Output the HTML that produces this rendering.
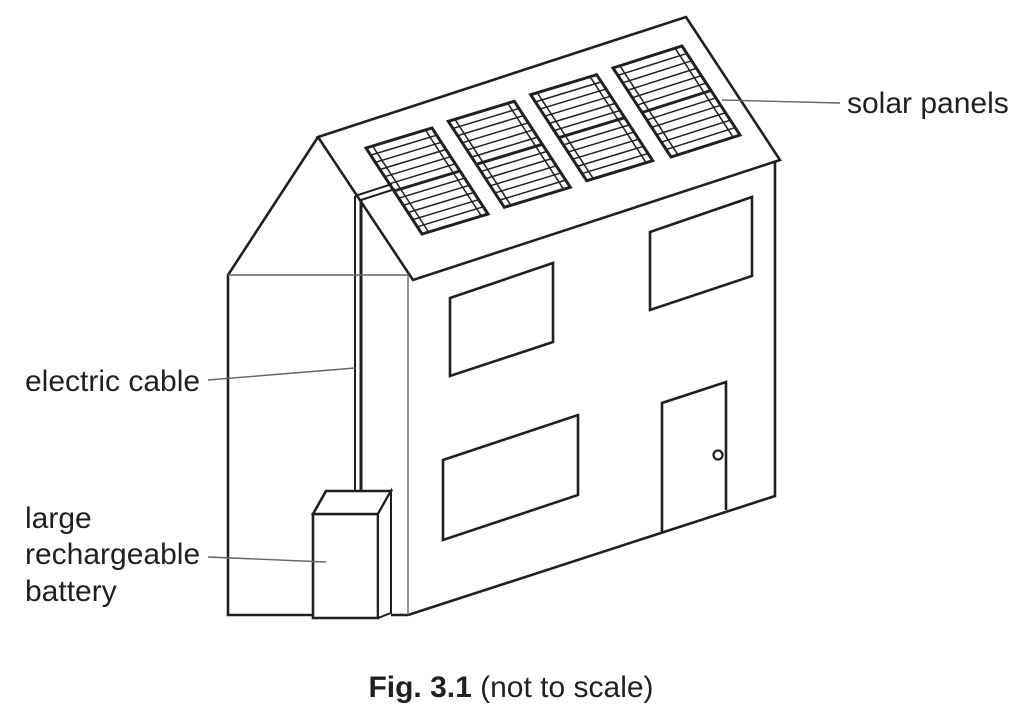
<!DOCTYPE html>
<html><head><meta charset="utf-8"><style>
html,body{margin:0;padding:0;background:#fff;}
svg{display:block;}
text{font-family:"Liberation Sans",Arial,sans-serif;fill:#231f20;}
</style></head><body>
<svg width="1022" height="718" viewBox="0 0 1022 718" xmlns="http://www.w3.org/2000/svg">
<defs>
<g id="pn" fill="none" stroke="#231f20">
  <rect x="0" y="0" width="100" height="100" stroke-width="3" vector-effect="non-scaling-stroke"/>
  <line x1="0" y1="50" x2="100" y2="50" stroke-width="3" vector-effect="non-scaling-stroke"/>
  <line x1="10" y1="0" x2="10" y2="100" stroke-width="1.5" vector-effect="non-scaling-stroke"/>
  <line x1="90" y1="0" x2="90" y2="100" stroke-width="1.5" vector-effect="non-scaling-stroke"/>
  <g stroke-width="1.5">
  <line x1="0" y1="8.33" x2="100" y2="8.33" vector-effect="non-scaling-stroke"/>
  <line x1="0" y1="16.67" x2="100" y2="16.67" vector-effect="non-scaling-stroke"/>
  <line x1="0" y1="25" x2="100" y2="25" vector-effect="non-scaling-stroke"/>
  <line x1="0" y1="33.33" x2="100" y2="33.33" vector-effect="non-scaling-stroke"/>
  <line x1="0" y1="41.67" x2="100" y2="41.67" vector-effect="non-scaling-stroke"/>
  <line x1="0" y1="58.33" x2="100" y2="58.33" vector-effect="non-scaling-stroke"/>
  <line x1="0" y1="66.67" x2="100" y2="66.67" vector-effect="non-scaling-stroke"/>
  <line x1="0" y1="75" x2="100" y2="75" vector-effect="non-scaling-stroke"/>
  <line x1="0" y1="83.33" x2="100" y2="83.33" vector-effect="non-scaling-stroke"/>
  <line x1="0" y1="91.67" x2="100" y2="91.67" vector-effect="non-scaling-stroke"/>
  </g>
</g>
</defs>
<g fill="none" stroke="#231f20" stroke-width="2.6" stroke-linejoin="miter">
  <polyline points="318,137 228,275 228,615 313,615"/>
  <line x1="391" y1="615" x2="408" y2="615"/>
  <polygon points="318,137 686,17 780,160 413,280"/>
  <polyline points="775,162 775,496 408,615"/>
  <line x1="355" y1="196" x2="355" y2="491" stroke-width="2"/>
  <line x1="361" y1="200" x2="361" y2="491" stroke-width="3"/>
  <line x1="355" y1="196" x2="392" y2="184" stroke-width="2"/>
  <line x1="361" y1="200" x2="395" y2="189" stroke-width="2"/>
  <polygon points="450,298 553,263 553,342 450,376"/>
  <polygon points="650,232 752,197 752,276 650,310"/>
  <polygon points="443,460 578,415 578,495 443,540"/>
  <polyline points="662,532 662,403 726,382 726,510"/>
  <circle cx="718" cy="455" r="4.5" stroke-width="2.2"/>
  <polygon points="313,514 378,514 378,618 313,618" fill="#fff"/>
  <polygon points="313,514 326,491 391,491 378,514" fill="#fff"/>
  <polygon points="378,514 391,491 391,613 378,618" fill="#fff" stroke-width="2"/>
</g>
<g stroke="#666" stroke-width="1.4" fill="none">
  <polyline points="228,275 408,275 408,615"/>
  <line x1="722" y1="100" x2="840" y2="103"/>
  <line x1="208" y1="380" x2="355" y2="368"/>
  <line x1="208" y1="557" x2="326" y2="562"/>
</g>
<use href="#pn" transform="matrix(0.66,-0.2,0.56,0.86,366,148)"/>
<use href="#pn" transform="matrix(0.66,-0.2,0.56,0.86,448.3,121.3)"/>
<use href="#pn" transform="matrix(0.66,-0.2,0.56,0.86,530.7,94.7)"/>
<use href="#pn" transform="matrix(0.69,-0.22,0.58,0.89,613,68)"/>
<text x="847" y="113" font-size="30">solar panels</text>
<text x="25" y="391" font-size="30">electric cable</text>
<text x="25" y="528" font-size="30">large</text>
<text x="25" y="564" font-size="30">rechargeable</text>
<text x="25" y="601" font-size="30">battery</text>
<text x="511" y="697" font-size="30" text-anchor="middle"><tspan font-weight="bold">Fig. 3.1</tspan> (not to scale)</text>
</svg>
</body></html>
